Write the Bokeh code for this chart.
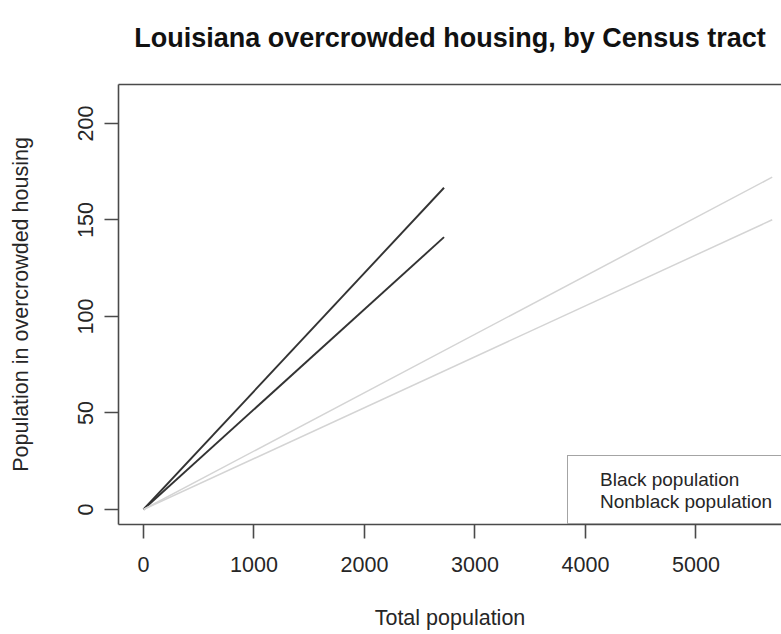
from bokeh.plotting import figure
from bokeh.models import Range1d, LinearAxis, FixedTicker, Legend, LegendItem, Title
from bokeh.embed import file_html
from bokeh.resources import INLINE

# Fitted lines of overcrowded population against total tract population
black_x = [0, 2720]
black_upper = [0, 166.7]
black_lower = [0, 141.1]
nonblack_x = [0, 5690]
nonblack_upper = [0, 172.2]
nonblack_lower = [0, 150.1]

x_ticks = [0, 1000, 2000, 3000, 4000, 5000]
y_ticks = [0, 50, 100, 150, 200]

FONT = "Liberation Sans"
AXIS_COL = "#4a4a4a"
TEXT_COL = "#262626"

p = figure(width=781, height=634, output_backend="svg", toolbar_location=None,
           x_range=Range1d(-226, 5774), y_range=Range1d(-7.77, 220.2),
           x_axis_type=None, y_axis_type=None,
           min_border_left=118, min_border_right=0,
           min_border_top=84, min_border_bottom=110)
p.outline_line_color = None
p.background_fill_color = "white"
p.border_fill_color = "white"

p.title.text = "Louisiana overcrowded housing, by Census tract"
p.title.align = "center"
p.title.text_font = FONT
p.title.text_font_size = "27px"
p.title.text_font_style = "bold"
p.title.text_color = "#111111"
p.title.standoff = 0


def style_axis(ax, ticks, label, standoff, label_standoff):
    ax.ticker = FixedTicker(ticks=ticks)
    ax.axis_label = label
    ax.axis_line_color = AXIS_COL
    ax.axis_line_width = 1.6
    ax.major_tick_line_color = AXIS_COL
    ax.major_tick_line_width = 1.6
    ax.major_tick_out = 14
    ax.major_tick_in = 0
    ax.minor_tick_out = 0
    ax.minor_tick_in = 0
    ax.major_label_text_font = FONT
    ax.major_label_text_font_size = "21.5px"
    ax.major_label_text_color = TEXT_COL
    ax.major_label_standoff = standoff
    ax.axis_label_text_font = FONT
    ax.axis_label_text_font_size = "21.5px"
    ax.axis_label_text_font_style = "normal"
    ax.axis_label_text_color = TEXT_COL
    ax.axis_label_standoff = label_standoff


bottom = LinearAxis()
style_axis(bottom, x_ticks, "Total population", 18, 31)
bottom.major_label_text_line_height = 1.0
bottom.axis_label_text_line_height = 0.8
p.add_layout(bottom, "below")

left = LinearAxis()
style_axis(left, y_ticks, "Population in overcrowded housing", 11, 43)
left.major_label_orientation = "vertical"
p.add_layout(left, "left")

# top edge of the plot box
top = LinearAxis(ticker=FixedTicker(ticks=[]))
top.axis_line_color = AXIS_COL
top.axis_line_width = 1.6
top.major_tick_out = 0
top.minor_tick_out = 0
top.major_label_text_font_size = "0px"
p.add_layout(top, "above")

# blank gap between the plot box and the main title
p.add_layout(Title(text=" ", text_font_size="1px", standoff=29), "above")

rb1 = p.line(black_x, black_upper, line_color="#333333", line_width=1.9)
rb2 = p.line(black_x, black_lower, line_color="#333333", line_width=1.9)
rn1 = p.line(nonblack_x, nonblack_upper, line_color="#d4d4d4", line_width=1.5)
rn2 = p.line(nonblack_x, nonblack_lower, line_color="#d4d4d4", line_width=1.5)

legend = Legend(
    items=[LegendItem(label="Black population", renderers=[rb1, rb2]),
           LegendItem(label="Nonblack population", renderers=[rn1, rn2])],
    location=(449, 0),
    title=" ", title_text_font_size="1px", title_standoff=2,
    glyph_width=0, glyph_height=20, label_height=22,
    label_standoff=22, padding=10, spacing=0, margin=0,
    label_text_font=FONT, label_text_font_size="19px", label_text_color=TEXT_COL,
    border_line_color=AXIS_COL, border_line_width=1.5,
    background_fill_color="white", background_fill_alpha=1.0,
)
p.add_layout(legend)

open("out.html", "w").write(file_html(p, INLINE))
